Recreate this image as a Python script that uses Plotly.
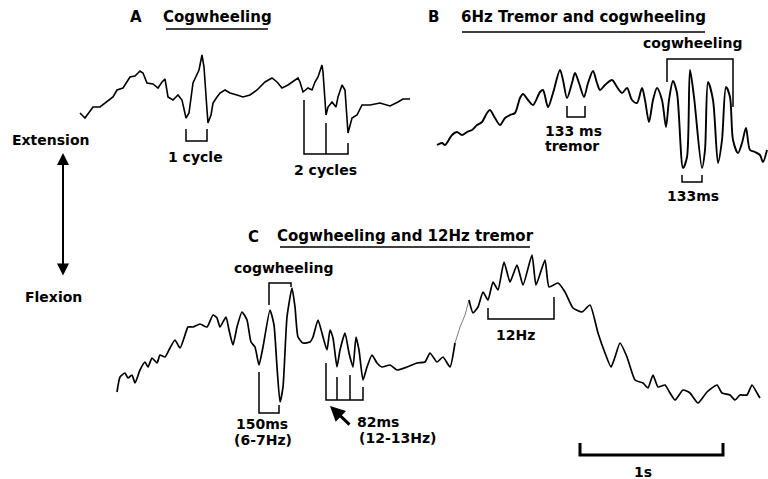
import plotly.graph_objects as go

# Trace A (time, position) (pixel-space units)
a_t = [80, 85, 93, 100, 113, 117, 123, 130, 135, 140, 143, 147, 153, 158, 162, 165, 168, 173, 178, 182,
       186, 189, 193, 197, 199, 202, 204, 207, 208, 211, 213, 217, 220, 225, 230, 237, 243, 250, 257, 265,
       272, 277, 282, 288, 295, 298, 300, 303, 308, 312, 315, 318, 322, 323, 326, 328, 332, 336, 338, 342,
       345, 347, 348, 352, 357, 362, 370, 380, 390, 398, 403, 410]
a_y = [113, 118, 107, 107, 97, 90, 88, 77, 76, 71, 73, 83, 84, 88, 82, 79, 97, 100, 95, 100,
       118, 113, 83, 73, 70, 55, 67, 110, 123, 115, 103, 97, 93, 90, 93, 95, 97, 95, 90, 82,
       78, 82, 88, 85, 80, 78, 82, 92, 88, 90, 82, 77, 65, 72, 115, 107, 102, 107, 97, 85,
       90, 113, 133, 118, 115, 105, 105, 103, 106, 102, 99, 99]

b_t = [437, 442, 445, 452, 457, 462, 467, 472, 477, 482, 487, 490, 495, 500, 505, 510, 515, 520, 523, 528,
       533, 540, 543, 548, 553, 560, 563, 567, 572, 575, 579, 584, 588, 593, 597, 600, 605, 612, 617, 622,
       627, 632, 637, 642, 645, 649, 653, 657, 662, 666, 669, 673, 677, 683, 687, 690, 694, 702, 705, 708,
       713, 718, 722, 726, 730, 733, 738, 742, 746, 750, 755, 760, 763, 767]
b_y = [145, 143, 145, 135, 132, 135, 132, 130, 125, 122, 113, 110, 118, 125, 118, 115, 113, 98, 94, 100,
       105, 92, 90, 107, 93, 70, 80, 98, 83, 73, 83, 97, 83, 71, 83, 90, 85, 80, 87, 93,
       88, 100, 103, 88, 100, 122, 100, 88, 100, 127, 100, 81, 93, 168, 157, 70, 97, 168, 150, 82,
       100, 163, 140, 87, 97, 140, 153, 143, 128, 150, 152, 155, 162, 150]

c1_t = [117, 120, 125, 128, 132, 135, 140, 145, 148, 152, 157, 160, 165, 170, 175, 180, 185, 188, 193, 200,
        207, 213, 217, 220, 226, 229, 233, 237, 242, 247, 251, 255, 259, 263, 270, 274, 277, 280, 283, 287,
        292, 295, 298, 303, 310, 313, 318, 323, 327, 330, 333, 337, 340, 345, 349, 353, 356, 359, 363, 367,
        372, 377, 382, 390, 397, 407, 417, 425, 430, 437, 443, 450, 455]
c1_y = [392, 377, 373, 378, 375, 383, 370, 362, 367, 358, 363, 355, 357, 348, 340, 348, 335, 327, 327, 324,
        327, 315, 318, 327, 317, 330, 345, 327, 312, 320, 342, 347, 365, 347, 310, 325, 367, 402, 387, 317,
        288, 307, 337, 343, 342, 337, 320, 337, 350, 330, 338, 367, 350, 333, 353, 367, 337, 350, 380, 367,
        355, 363, 367, 365, 370, 367, 363, 362, 353, 362, 357, 367, 343]
cf_t = [455, 460, 465, 469]
cf_y = [343, 327, 315, 300]
c2_t = [469, 473, 478, 483, 488, 493, 498, 504, 510, 517, 523, 532, 536, 545, 549, 558, 565, 573, 582, 590,
        598, 605, 611, 615, 620, 627, 635, 643, 648, 653, 658, 665, 670, 675, 683, 690, 698, 707, 717, 722,
        730, 735, 740, 747, 752, 757, 760]
c2_y = [300, 313, 307, 292, 300, 282, 290, 262, 282, 265, 285, 255, 285, 260, 287, 283, 292, 308, 312, 305,
        333, 353, 367, 357, 343, 357, 380, 383, 388, 375, 387, 385, 393, 400, 390, 393, 403, 392, 385, 393,
        395, 400, 395, 395, 385, 393, 398]

fig = go.Figure()
fig.add_trace(go.Scatter(x=a_t, y=a_y, mode="lines", line=dict(color="black", width=1.6)))
fig.add_trace(go.Scatter(x=b_t, y=b_y, mode="lines", line=dict(color="black", width=1.9, shape="spline", smoothing=0.8)))
fig.add_trace(go.Scatter(x=c1_t, y=c1_y, mode="lines", line=dict(color="black", width=1.7, shape="spline", smoothing=0.5)))
fig.add_trace(go.Scatter(x=cf_t, y=cf_y, mode="lines", line=dict(color="#444", width=0.7)))
fig.add_trace(go.Scatter(x=c2_t, y=c2_y, mode="lines", line=dict(color="black", width=1.7, shape="spline", smoothing=0.5)))

shapes = []
def path(pts, w=1.5):
    d = "M " + " L ".join(f"{x},{y}" for x, y in pts)
    shapes.append(dict(type="path", path=d, xref="x", yref="y", line=dict(color="black", width=w)))

# A brackets
path([(186, 129), (186, 141), (207, 141), (207, 129)])
path([(304, 100), (304, 154), (348, 154), (348, 143)])
path([(326, 123), (326, 154)])
# B brackets
path([(567, 106), (567, 117), (585, 117), (585, 106)])
path([(667, 82), (667, 59), (733, 59), (733, 107)])
path([(682, 175), (682, 182), (702, 182), (702, 175)])
# C brackets
path([(269, 305), (269, 283), (291, 283), (291, 287)])
path([(259, 372), (259, 413), (279, 413), (279, 405)])
path([(326, 363), (326, 400), (363, 400), (363, 387)])
path([(337, 377), (337, 400)])
path([(350, 375), (350, 400)])
path([(488, 308), (488, 319), (554, 319), (554, 297)])
# scale bar
path([(580, 443), (580, 455), (723, 455), (723, 443)], w=3)
# underlines
path([(166, 29), (268, 29)], w=1.3)
path([(462, 32), (705, 32)], w=1.3)
path([(280, 247), (530, 247)], w=1.3)

F = dict(family="DejaVu Sans", size=14, color="black")
ann = []
def txt(x, y, s, size=14, xanchor="center"):
    ann.append(dict(x=x, y=y, text=f"<b>{s}</b>", showarrow=False, xref="x", yref="y",
                    xanchor=xanchor, yanchor="middle", font=dict(F, size=size)))

txt(136, 17, "A", 15)
txt(217, 17, "Cogwheeling", 15)
txt(433, 17, "B", 15)
txt(583, 17, "6Hz Tremor and cogwheeling", 15)
txt(253, 237, "C", 15)
txt(405, 236, "Cogwheeling and 12Hz tremor", 15)
txt(195, 157, "1 cycle")
txt(325, 170, "2 cycles")
txt(573, 131, "133 ms")
txt(572, 146, "tremor")
txt(692, 43, "cogwheeling")
txt(693, 196, "133ms")
txt(283, 268, "cogwheeling")
txt(262, 424, "150ms")
txt(263, 440, "(6-7Hz)")
txt(355, 422, "82ms", xanchor="left")
txt(357, 438, "(12-13Hz)", xanchor="left")
txt(515, 335, "12Hz")
txt(643, 472, "1s")
txt(50, 140, "Extension")
txt(53, 297, "Flexion")

# arrows
ann.append(dict(x=330, y=406, ax=351, ay=426, axref="x", ayref="y", xref="x", yref="y", text="",
                showarrow=True, arrowhead=2, arrowsize=1, arrowwidth=3, arrowcolor="black"))
ann.append(dict(x=63, y=153, ax=63, ay=277, axref="x", ayref="y", xref="x", yref="y", text="",
                showarrow=True, arrowside="end+start", arrowhead=2, startarrowhead=2,
                arrowsize=1.2, startarrowsize=1.2, arrowwidth=2, arrowcolor="black"))

fig.update_layout(width=768, height=479, margin=dict(l=0, r=0, t=0, b=0),
                  paper_bgcolor="white", plot_bgcolor="white", showlegend=False,
                  shapes=shapes, annotations=ann,
                  xaxis=dict(range=[0, 768], visible=False, fixedrange=True),
                  yaxis=dict(range=[479, 0], visible=False, fixedrange=True))
fig.write_html("out.html", config={"displayModeBar": False},
               post_script="document.body.style.margin='0';document.body.style.overflow='hidden';")
